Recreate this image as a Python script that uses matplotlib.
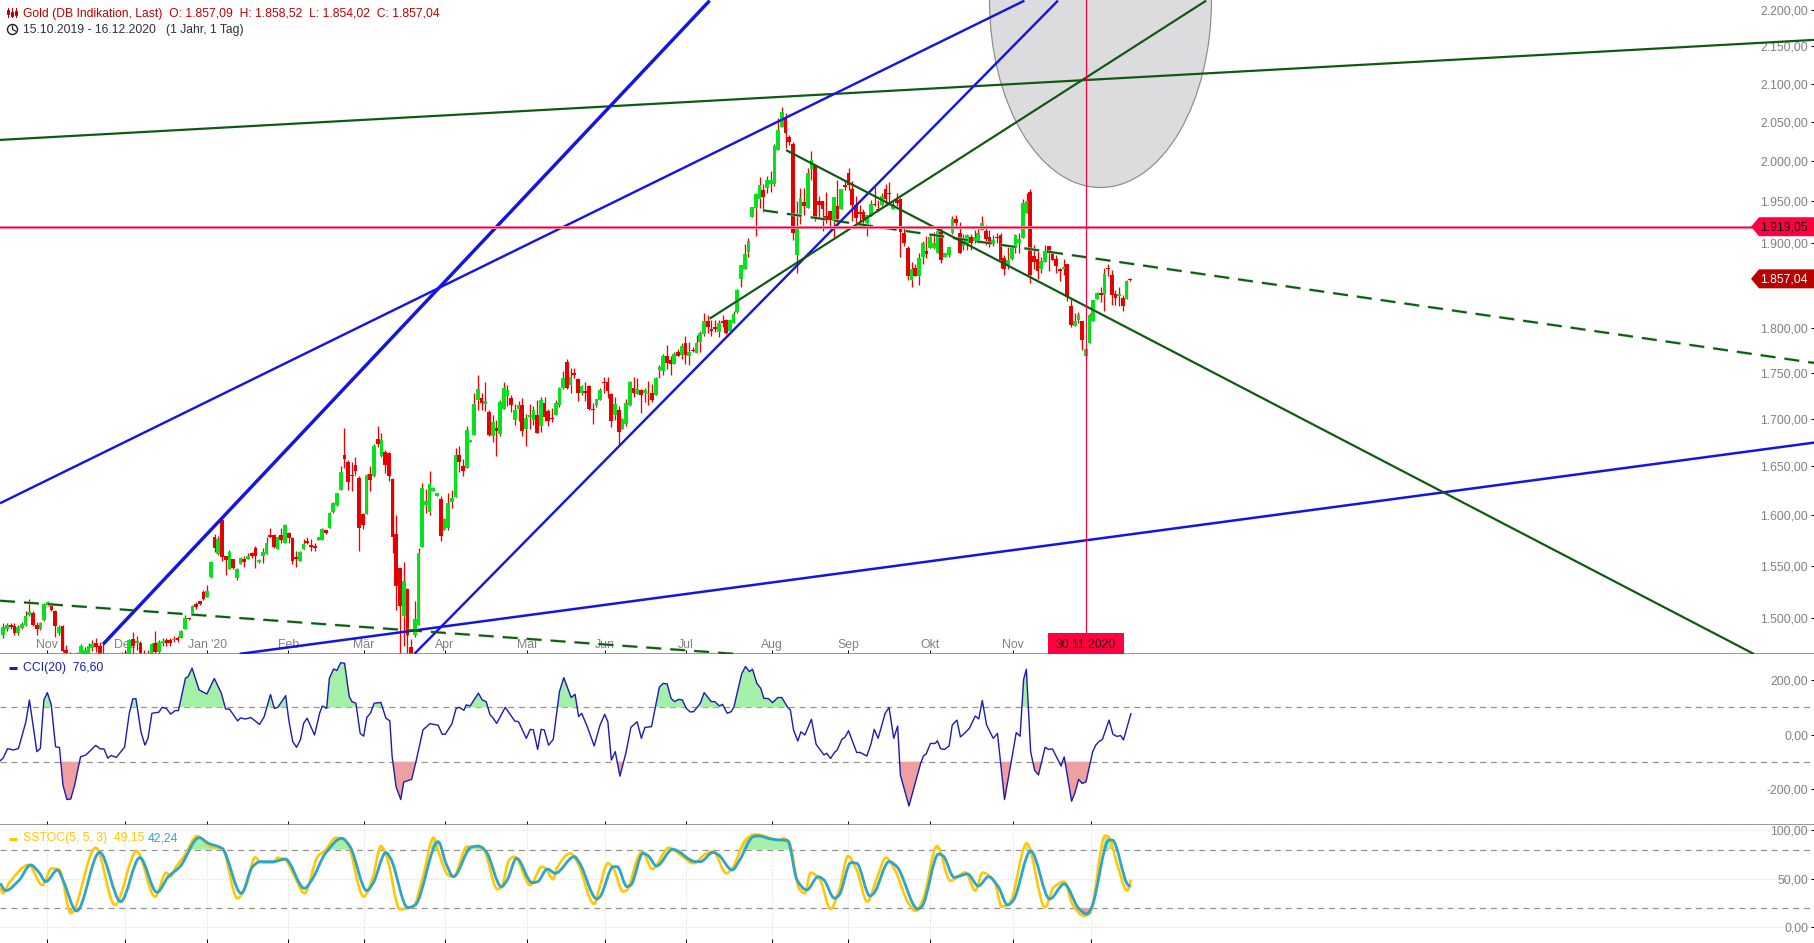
import numpy as np
import matplotlib
matplotlib.use("Agg")
import matplotlib.pyplot as plt
from matplotlib.lines import Line2D
from matplotlib.path import Path
from matplotlib.patches import Ellipse, Polygon, Rectangle, Circle, PathPatch

plt.rcParams['font.family'] = ['Liberation Sans', 'DejaVu Sans']
plt.rcParams['font.size'] = 8.8

# gold daily candles, one per weekday
opens = [
    1484, 1489, 1493, 1492, 1485, 1490, 1493, 1502, 1504, 1493,
    1489, 1498, 1512, 1512, 1506, 1485, 1492, 1470, 1462, 1455,
    1458, 1467, 1465, 1466, 1471, 1476, 1473, 1462, 1452, 1448,
    1450, 1458, 1460, 1456, 1466, 1480, 1476, 1476, 1465, 1462,
    1466, 1476, 1468, 1476, 1479, 1479, 1479, 1481, 1481, 1489,
    1500, 1503, 1513, 1516, 1524, 1520, 1539, 1578, 1561, 1595,
    1559, 1547, 1556, 1538, 1551, 1556, 1556, 1562, 1567, 1554,
    1559, 1561, 1580, 1580, 1566, 1580, 1572, 1582, 1577, 1558,
    1554, 1566, 1574, 1570, 1569, 1575, 1575, 1585, 1587, 1603,
    1610, 1626, 1662, 1655, 1641, 1651, 1638, 1601, 1601, 1642,
    1640, 1679, 1661, 1665, 1664, 1637, 1581, 1548, 1501, 1527,
    1472, 1484, 1493, 1568, 1610, 1603, 1625, 1619, 1616, 1585,
    1587, 1613, 1618, 1662, 1650, 1648, 1675, 1683, 1721, 1723,
    1716, 1708, 1682, 1690, 1684, 1711, 1725, 1723, 1699, 1711,
    1715, 1689, 1702, 1699, 1704, 1693, 1717, 1709, 1701, 1704,
    1715, 1733, 1762, 1737, 1750, 1743, 1728, 1730, 1736, 1711,
    1715, 1721, 1740, 1740, 1727, 1704, 1710, 1689, 1695, 1715,
    1733, 1727, 1731, 1728, 1727, 1728, 1726, 1753, 1752, 1769,
    1764, 1760, 1773, 1770, 1783, 1769, 1776, 1772, 1784, 1793,
    1808, 1799, 1801, 1796, 1808, 1809, 1797, 1806, 1819, 1857,
    1869, 1889, 1931, 1942, 1953, 1964, 1967, 1972, 1972, 2014,
    2043, 2054, 2031, 2022, 1885, 1935, 1949, 1942, 1990, 1994,
    1951, 1951, 1932, 1938, 1926, 1944, 1941, 1970, 1985, 1965,
    1946, 1937, 1937, 1924, 1932, 1947, 1941, 1945, 1965, 1960,
    1941, 1952, 1953, 1912, 1894, 1856, 1870, 1860, 1883, 1890,
    1893, 1894, 1888, 1913, 1883, 1885, 1912, 1928, 1912, 1896,
    1898, 1907, 1902, 1901, 1915, 1914, 1907, 1898, 1907, 1909,
    1882, 1873, 1880, 1893, 1899, 1905, 1936, 1962, 1884, 1880,
    1869, 1877, 1896, 1890, 1880, 1868, 1869, 1874, 1825, 1803,
    1809, 1808, 1769, 1783, 1808, 1834, 1840, 1838, 1870, 1861,
    1839, 1837, 1835, 1834, 1857.09,
]
highs = [
    1495, 1495, 1495, 1495, 1493, 1496, 1506, 1518, 1506, 1496,
    1496, 1514, 1516, 1515, 1507, 1493, 1493, 1474, 1468, 1466,
    1468, 1475, 1472, 1476, 1479, 1481, 1477, 1476, 1456, 1456,
    1460, 1467, 1468, 1468, 1480, 1486, 1483, 1478, 1470, 1470,
    1476, 1487, 1479, 1481, 1481, 1481, 1483, 1483, 1488, 1502,
    1500, 1512, 1515, 1516, 1526, 1531, 1554, 1581, 1579, 1597,
    1559, 1565, 1556, 1548, 1558, 1559, 1562, 1563, 1569, 1556,
    1567, 1578, 1587, 1581, 1579, 1587, 1591, 1583, 1578, 1564,
    1564, 1576, 1578, 1576, 1572, 1578, 1587, 1585, 1603, 1613,
    1623, 1650, 1690, 1657, 1654, 1660, 1640, 1602, 1642, 1650,
    1673, 1692, 1685, 1667, 1665, 1638, 1600, 1548, 1553, 1528,
    1480, 1516, 1567, 1633, 1627, 1645, 1629, 1623, 1619, 1597,
    1622, 1626, 1669, 1671, 1658, 1692, 1678, 1728, 1748, 1728,
    1740, 1710, 1704, 1699, 1720, 1740, 1737, 1726, 1716, 1719,
    1723, 1705, 1716, 1714, 1720, 1724, 1724, 1711, 1712, 1720,
    1735, 1752, 1765, 1755, 1755, 1745, 1737, 1740, 1737, 1717,
    1722, 1734, 1746, 1746, 1728, 1724, 1714, 1701, 1722, 1741,
    1746, 1744, 1732, 1734, 1741, 1738, 1746, 1759, 1771, 1781,
    1769, 1773, 1777, 1783, 1791, 1784, 1779, 1792, 1797, 1818,
    1815, 1809, 1810, 1809, 1815, 1811, 1810, 1820, 1845, 1873,
    1898, 1905, 1943, 1960, 1980, 1971, 1982, 1988, 2022, 2055,
    2070, 2062, 2033, 2024, 1950, 1966, 1966, 1991, 2013, 1997,
    1956, 1951, 1962, 1938, 1955, 1977, 1965, 1977, 1992, 1975,
    1956, 1946, 1940, 1933, 1952, 1968, 1952, 1960, 1972, 1974,
    1952, 1960, 1954, 1918, 1896, 1877, 1875, 1887, 1902, 1908,
    1910, 1913, 1916, 1919, 1887, 1895, 1932, 1933, 1925, 1910,
    1910, 1910, 1915, 1916, 1932, 1921, 1915, 1909, 1911, 1911,
    1885, 1895, 1896, 1910, 1911, 1953, 1960, 1965, 1897, 1891,
    1883, 1897, 1896, 1890, 1885, 1870, 1880, 1875, 1834, 1818,
    1819, 1808, 1778, 1817, 1832, 1842, 1848, 1870, 1875, 1867,
    1844, 1848, 1838, 1856, 1858.52,
]
lows = [
    1481, 1487, 1489, 1484, 1484, 1489, 1492, 1501, 1492, 1484,
    1488, 1497, 1511, 1506, 1482, 1484, 1468, 1465, 1458, 1450,
    1455, 1465, 1462, 1464, 1469, 1468, 1460, 1450, 1445, 1444,
    1447, 1450, 1452, 1453, 1460, 1466, 1470, 1460, 1458, 1458,
    1462, 1465, 1465, 1473, 1473, 1473, 1477, 1477, 1481, 1489,
    1498, 1503, 1508, 1512, 1517, 1520, 1538, 1563, 1560, 1554,
    1541, 1547, 1547, 1536, 1551, 1549, 1556, 1557, 1548, 1552,
    1552, 1561, 1578, 1567, 1566, 1572, 1572, 1572, 1551, 1549,
    1554, 1566, 1571, 1564, 1564, 1575, 1575, 1581, 1587, 1602,
    1609, 1626, 1648, 1626, 1625, 1641, 1564, 1586, 1601, 1625,
    1639, 1670, 1660, 1643, 1635, 1562, 1507, 1462, 1473, 1455,
    1440, 1482, 1493, 1568, 1602, 1600, 1625, 1619, 1574, 1585,
    1585, 1607, 1618, 1644, 1640, 1648, 1675, 1683, 1710, 1710,
    1709, 1682, 1675, 1661, 1682, 1711, 1714, 1707, 1694, 1698,
    1682, 1671, 1689, 1694, 1685, 1686, 1698, 1693, 1697, 1704,
    1713, 1732, 1732, 1728, 1744, 1719, 1726, 1719, 1710, 1695,
    1713, 1721, 1728, 1723, 1691, 1699, 1671, 1689, 1693, 1714,
    1724, 1727, 1706, 1718, 1715, 1718, 1726, 1744, 1748, 1754,
    1748, 1760, 1769, 1766, 1760, 1759, 1773, 1772, 1773, 1791,
    1795, 1791, 1796, 1790, 1802, 1794, 1797, 1806, 1818, 1848,
    1868, 1883, 1931, 1908, 1942, 1937, 1960, 1961, 1969, 2014,
    2043, 2017, 2021, 1903, 1864, 1922, 1933, 1942, 1977, 1926,
    1930, 1914, 1924, 1916, 1904, 1926, 1941, 1964, 1964, 1926,
    1923, 1921, 1921, 1908, 1932, 1944, 1938, 1944, 1944, 1946,
    1940, 1944, 1883, 1896, 1856, 1848, 1860, 1850, 1875, 1881,
    1893, 1892, 1887, 1876, 1883, 1883, 1910, 1918, 1887, 1891,
    1891, 1891, 1900, 1900, 1915, 1897, 1895, 1896, 1899, 1870,
    1861, 1868, 1879, 1887, 1887, 1905, 1936, 1852, 1868, 1857,
    1864, 1877, 1866, 1879, 1864, 1854, 1862, 1831, 1802, 1803,
    1806, 1775, 1766, 1783, 1808, 1833, 1830, 1820, 1860, 1827,
    1827, 1825, 1820, 1834, 1854.02,
]
closes = [
    1491, 1493, 1491, 1485, 1491, 1494, 1501, 1505, 1493, 1489,
    1495, 1513, 1515, 1507, 1492, 1491, 1469, 1467, 1460, 1458,
    1462, 1473, 1470, 1473, 1475, 1472, 1465, 1455, 1448, 1452,
    1456, 1454, 1456, 1462, 1479, 1473, 1478, 1467, 1460, 1466,
    1475, 1468, 1477, 1478, 1476, 1476, 1480, 1479, 1487, 1500,
    1499, 1511, 1510, 1513, 1518, 1525, 1553, 1567, 1576, 1558,
    1555, 1563, 1548, 1547, 1557, 1553, 1559, 1559, 1559, 1555,
    1563, 1572, 1579, 1568, 1578, 1575, 1590, 1577, 1554, 1556,
    1563, 1571, 1573, 1569, 1567, 1578, 1586, 1582, 1602, 1612,
    1622, 1644, 1658, 1634, 1640, 1645, 1587, 1590, 1641, 1636,
    1671, 1673, 1678, 1651, 1640, 1578, 1530, 1511, 1535, 1484,
    1455, 1499, 1562, 1628, 1614, 1632, 1628, 1623, 1579, 1596,
    1612, 1617, 1662, 1654, 1645, 1688, 1678, 1716, 1732, 1717,
    1719, 1683, 1697, 1687, 1718, 1734, 1731, 1715, 1710, 1715,
    1687, 1701, 1704, 1710, 1685, 1720, 1702, 1698, 1700, 1717,
    1734, 1745, 1733, 1746, 1748, 1728, 1736, 1728, 1711, 1710,
    1722, 1731, 1739, 1730, 1698, 1716, 1686, 1700, 1717, 1740,
    1728, 1732, 1726, 1731, 1728, 1721, 1745, 1757, 1769, 1761,
    1760, 1771, 1769, 1780, 1770, 1773, 1774, 1783, 1795, 1808,
    1801, 1797, 1800, 1806, 1806, 1795, 1809, 1816, 1844, 1873,
    1886, 1902, 1943, 1959, 1970, 1955, 1976, 1976, 2019, 2040,
    2063, 2036, 2024, 1912, 1917, 1954, 1944, 1985, 2002, 1931,
    1946, 1941, 1927, 1927, 1955, 1928, 1965, 1968, 1970, 1945,
    1930, 1934, 1928, 1933, 1947, 1946, 1940, 1956, 1953, 1959,
    1946, 1948, 1913, 1900, 1860, 1868, 1860, 1882, 1899, 1886,
    1907, 1900, 1914, 1879, 1887, 1895, 1929, 1923, 1887, 1905,
    1909, 1899, 1907, 1911, 1924, 1904, 1901, 1903, 1906, 1879,
    1868, 1879, 1895, 1909, 1904, 1948, 1951, 1862, 1877, 1866,
    1878, 1890, 1888, 1879, 1872, 1867, 1871, 1836, 1804, 1808,
    1815, 1787, 1777, 1815, 1832, 1841, 1838, 1863, 1869, 1838,
    1835, 1839, 1826, 1855, 1857.04,
]

# x for everything below is in "chart days"; candles run slightly tighter than that
candle_step = 0.9505
marked_candle = 292
price_now = 1857.04
price_level = 1919.05

month_days = [11.3, 31.2, 52.3, 73.1, 92.4, 113.2, 134.2, 154.2, 175, 197, 216.7, 237.7, 258.8, 278.8]
# last Dez sits under the date box in the original
month_names = ["Nov", "Dez", "Jan '20", "Feb", "Mär", "Apr", "Mai", "Jun", "Jul", "Aug", "Sep", "Okt", "Nov", ""]

price_ticks = [2200, 2150, 2100, 2050, 2000, 1950, 1900, 1850, 1800, 1750, 1700, 1650, 1600, 1550, 1500]
price_labels = ["2.200,00", "2.150,00", "2.100,00", "2.050,00", "2.000,00", "1.950,00", "1.900,00", "",
                "1.800,00", "1.750,00", "1.700,00", "1.650,00", "1.600,00", "1.550,00", "1.500,00"]

# drawn trend lines: start day/price, end day/price
trend_day0 = [-0.85, -0.85, 25.6, 105.4, 60.6, 181.1, 200.7, 194.8, -0.85]
trend_price0 = [2027, 1612, 1475, 1466, 1466, 1811, 2014, 1939, 1516]
trend_day1 = [464.5, 261.8, 181.1, 270.4, 464.5, 308.4, 448.8, 464.5, 187.6]
trend_price1 = [2159, 2213, 2213, 2213, 1675, 2213, 1466, 1761, 1466]
trend_colors = ['#0d5a12', '#1414e6', '#1414e6', '#1414e6', '#1414e6', '#0d5a12', '#0d5a12', '#0d5a12', '#0d5a12']
trend_widths = [2.2, 2.4, 3.4, 2.4, 2.5, 2.2, 2.2, 2, 2]
trend_dashed = [False, False, False, False, False, False, False, True, True]

cci_days = [
    -0.8, -0.1, 1.1, 2.6, 3.9, 5.8, 6.7, 8.6, 9.5, 10.4, 11.3, 12.3, 13.4, 14.4, 15.3, 16.3, 17.3, 18.3, 19.8, 21.2,
    23.7, 24.9, 25.8, 26.8, 27.6, 29.0, 31.1, 32.3, 33.2, 34.0, 35.3, 36.3, 37.1, 38.1, 39.9, 40.7, 41.8, 42.9, 44.1, 44.9,
    46.7, 47.4, 48.4, 50.2, 52.2, 54.1, 55.9, 57.0, 58.0, 60.1, 60.8, 62.0, 63.5, 65.7, 66.9, 68.5, 69.5, 70.4, 72.4, 73.2,
    74.2, 75.2, 76.2, 77.0, 77.9, 79.8, 81.1, 81.8, 82.9, 83.6, 84.7, 85.5, 86.5, 87.5, 88.7, 89.4, 90.4, 91.5, 92.4, 93.2,
    94.1, 95.1, 96.8, 98.1, 99.1, 99.7, 100.7, 101.9, 102.7, 104.7, 105.8, 107.6, 109.4, 111.5, 112.5, 113.3, 115.0, 116.1, 116.9, 118.1,
    118.7, 119.7, 121.8, 122.8, 123.8, 124.8, 125.5, 126.5, 128.7, 131.1, 132.1, 134.1, 135.1, 135.9, 137.0, 137.9, 138.7, 139.8, 141.0, 142.6,
    143.7, 145.6, 146.6, 147.5, 148.3, 149.8, 151.5,
    153, 154.2, 155, 155.9, 156.9, 158.1, 159.7, 160.9, 162.5, 163.6, 164.5, 166.2, 168.2, 169.2, 170.2, 171.2, 172.1, 173.1, 174.1, 175.1,
    176.1, 177, 178.7, 179.7, 181.5, 182.4, 183.6, 184.4, 185.6, 186.6, 187.3, 189.3, 190.3, 191.3, 192.1, 193.2, 194.2, 195, 196.2, 197.2,
    198.6, 199.6, 201.1, 201.8, 202.6, 203.7, 204.5, 205.5, 207.2, 208.4, 210.4, 211.1, 212.1, 213.1, 213.8, 215, 215.8, 216.7, 218.8, 219.7,
    221.4, 222.5, 223.3, 224.3, 226.1, 227.1, 228.3, 229.3, 230, 232.2, 235.2, 235.9, 236.6, 237.7, 238.9, 239.5, 240.3, 241.3, 242.5, 243.3,
    244.5, 245.4, 246.4, 247.7, 249.2, 250.1, 251, 252.1, 253.8, 254.9, 256.7, 258.5, 259.7, 260.7, 261.6, 262.3, 263.4, 264.4, 265.4, 267.1,
    268, 269, 271.2, 272, 273.9, 274.7, 275.7, 276.6, 277.6, 279.3, 280.1, 280.9, 281.8, 283.5, 284.5, 285.5, 286.5, 287.2, 289.1,
]
cci_values = [
    -96, -88, -52, -57, -51, 47, 127, -63, -51, 127, 154, 109, -45, -48, -186, -239, -237, -186, -82, -75,
    -40, -53, -53, -87, -77, -84, -46, 78, 131, 132, 10, -39, -14, 78, 82, 100, 96, 75, 88, 88,
    207, 213, 244, 164, 149, 206, 152, 94, 93, 50, 61, 57, 62, 37, 66, 147, 96, 100, 143, 53,
    -26, -47, -18, 41, 60, -2, 78, 105, 96, 207, 241, 235, 264, 262, 139, 121, 115, 4, -6, 63,
    78, 115, 118, 60, 50, -82, -192, -239, -174, -165, -100, 17, 40, 34, 1, 1, 39, 96, 100, 89,
    109, 105, 152, 127, 121, 72, 62, 41, 100, 50, 47, -14, 19, 17, -55, 19, 17, -39, -18, 158,
    209, 136, 148, 66, 78, 26, -42,
    35, 74, 47, -94, -63, -153, -63, 26, 47, -14, 26, 29, 174, 188, 186, 133, 121, 129, 127, 96,
    83, 84, 115, 154, 121, 121, 105, 111, 78, 84, 100, 223, 250, 231, 240, 188, 170, 133, 132, 117,
    136, 136, 100, 90, 17, -24, 10, -2, 56, -36, -75, -69, -88, -66, -57, -18, -10, 14, -66, -66,
    -79, -33, 19, -14, 78, 99, -14, 31, -149, -263, -106, -79, -72, -33, -33, -23, -52, -55, -42, 35,
    53, -9, 4, 23, 68, 57, 125, 35, -14, 4, -239, -94, 7, -6, 203, 240, -63, -131, -149, -47,
    -55, -53, -116, -82, -245, -217, -165, -180, -174, -63, -39, -26, -18, 53, 1, -7, -4, -20, 76.6,
]

stoch_fast_days = [
    -0.8, -0.1, 1.6, 6.5, 10, 12.4, 14.4, 17.3, 23.7, 28.6, 34.2, 38.9, 41.8, 42.8, 44.3, 46.3, 49.7, 53.1, 56.1, 60,
    62, 64.6, 65.9, 69.3, 70.3, 72.3, 74.7, 77.2, 80.6, 82.6, 85.3, 88, 92.4, 94.8, 96.8, 98.3, 101.7, 105.1, 107.6, 110.3,
    112, 114, 115.4, 118.9, 122.8, 126.7, 127.7, 129.7, 131.1, 135.1, 136.1, 138, 139, 141, 141.9, 145.4, 147.3, 151.5, 152.7,
    155, 156.4, 158.9, 159.9, 162.8, 163.8, 166.4, 170.7, 173.6, 177, 180, 182, 185.4, 186.9, 190.3, 192.7, 199.1, 200.1, 201.6, 204,
    205.5, 207, 209.4, 212.1, 214.3, 216.6, 218.8, 221.5, 224.1, 226.3, 228.6, 232, 234, 235.9, 239.4, 242.8, 246.7, 249.2, 251.1, 254.1,
    256, 258, 262.4, 267.1, 269.3, 272, 274.2, 277.1, 278.6, 282.5, 283.5, 285.5, 288.2, 289.1,
]
stoch_fast = [
    41.2, 35.1, 46.4, 64.3, 43.6, 60.8, 59.1, 14.4, 82.1, 23, 78.7, 31.6, 56.4, 52.2, 62.5, 72.9, 94.2, 83.2, 81.4, 29.9,
    40.2, 72.2, 67, 66.7, 71.8, 69.4, 52.2, 35.1, 72.9, 79.7, 92.4, 88.3, 31.6, 52.2, 83.8, 72.9, 18.6, 21.3, 52.2, 92.4,
    72.9, 54, 52.2, 83.2, 82.5, 39.5, 41.2, 69.4, 72.9, 43.6, 48.8, 62.5, 60.8, 49.5, 60.8, 76.3, 66, 24.1, 38.5,
    66, 60.8, 36.8, 38.5, 72.9, 78, 60.1, 82.1, 74.6, 66, 75.6, 78, 55.7, 60.8, 90, 95.9, 90, 91.8, 86.6, 40.2,
    35.1, 56.4, 48.8, 18.9, 38.5, 73.5, 59.1, 26.5, 52.2, 71.8, 59.1, 25.4, 16.8, 29.9, 83.8, 48.1, 56.7, 37.8, 56.4, 47.1,
    21.3, 24.7, 86.6, 20.6, 41.2, 47.1, 23, 11.7, 14.4, 94.5, 92.8, 66, 37.8, 49.15,
]
stoch_slow_days = [
    -0.8, 0.6, 4.1, 7, 9, 10.9, 13.9, 15.3, 18.8, 24.7, 30.1, 35, 39.4, 42.3, 45.3, 50.2, 52.6, 56.1, 61, 63.9,
    65.9, 69.3, 72.3, 77.2, 79.1, 82.6, 86.8, 88.9, 93.2, 94.8, 98.1, 99.3, 103.7, 105.6, 111.5, 113.5, 115.4, 119.9, 121.8, 123.8,
    127.7, 129.2, 131.6, 135.6, 137, 139.5, 141.5, 146.4, 147.8, 152.2,
    153, 156.4, 157.4, 159.9, 160.9, 164, 165.3, 167.5, 171.6, 177.5, 178.7, 182, 183.4, 186.9, 188.8, 192.3, 193.7, 197.2, 201.1, 203.5,
    206, 208.9, 210.4, 213.1, 214.3, 217.3, 218.8, 222.2, 223.2, 227.1, 229.1, 234.5, 235.6, 239.8, 241, 243.8, 247.2, 250, 252.6, 255.1,
    257.5, 259, 263.4, 268.3, 272, 275.7, 277.8, 279.1, 283.5, 284.3, 288.4, 289.1,
]
stoch_slow = [
    45.4, 37.8, 48.8, 64.3, 57.4, 47.1, 59.1, 48.8, 16.8, 77.3, 26.5, 71.8, 36.1, 52.2, 62.5, 92.4, 86.6, 81.4, 35.1, 62.5,
    67.7, 67.7, 70.4, 40.2, 48.8, 76.3, 91.8, 83.2, 37.8, 45.4, 77, 71.1, 20.3, 23, 88.3, 66, 52.2, 82.5, 83.8, 78,
    41.9, 48.8, 71.1, 46, 47.1, 60.1, 55.7, 72.9, 66, 29.2,
    31.6, 62.5, 62.5, 41.9, 43.6, 76.3, 73.9, 63.2, 80.4, 67.7, 67.7, 77.3, 74.6, 59.1, 69.4, 93.5, 94.2, 90.7, 89.3, 48.8,
    38.5, 52.2, 48.8, 29.9, 33.3, 66.7, 66, 32.3, 35.1, 67.7, 62.5, 18.9, 22, 75.6, 73.5, 51.5, 55, 42.6, 52.2, 41.9,
    23, 28.2, 78.7, 29.2, 44.7, 19.6, 13.7, 21.3, 90, 90, 43.6, 42.24,
]

W, H = 1815, 943
GREY = '#808080'
RED = '#ff0040'
GREEN_FILL = '#a4f0a8'
RED_FILL = '#eea0a0'


def px(n):
    return n * 0.72


def pane(top, bottom):
    ax = fig.add_axes([0, 1 - bottom / H, 1, (bottom - top) / H])
    ax.set_xlim(-0.846, 464.5)
    for s in ['top', 'left', 'right']:
        ax.spines[s].set_visible(False)
    ax.spines['bottom'].set_color(GREY)
    ax.spines['bottom'].set_linewidth(px(1.6))
    ax.yaxis.tick_right()
    ax.tick_params(axis='y', direction='in', length=3, width=0.7, pad=-5, labelcolor=GREY)
    ax.tick_params(axis='x', direction='in', length=3, width=0.7, labelbottom=False)
    ax.set_xticks(month_days)
    return ax


def right_labels(ax, ticks, labels):
    ax.set_yticks(ticks)
    ax.set_yticklabels(labels, ha='right', va='center_baseline')


def price_tag(ax, y_value, text, face, color):
    y = H - ax.transData.transform((0, y_value))[1]
    pts = [(1751, y), (1759, y - 9.5), (1815, y - 9.5), (1815, y + 9.5), (1759, y + 9.5)]
    fig.add_artist(Polygon([(a / W, 1 - b / H) for a, b in pts], closed=True, facecolor=face,
                           edgecolor='none', transform=fig.transFigure, zorder=6))
    fig.text(1808 / W, 1 - (y + 0.5) / H, text, color=color, ha='right', va='center', zorder=7)


def soft_line(ax, xs, ys, color, lw, z):
    # the indicator is drawn as a rounded curve through the read values
    xs = np.asarray(xs, dtype=float)
    ys = np.asarray(ys, dtype=float)
    dx = np.diff(xs)
    s = np.diff(ys) / dx
    m = np.zeros(len(xs))
    m[0], m[-1] = s[0], s[-1]
    for i in range(1, len(xs) - 1):
        if s[i - 1] * s[i] > 0:
            m[i] = 2 * s[i - 1] * s[i] / (s[i - 1] + s[i])
    verts = [(xs[0], ys[0])]
    codes = [Path.MOVETO]
    for i in range(len(dx)):
        verts += [(xs[i] + dx[i] / 3, ys[i] + m[i] * dx[i] / 3),
                  (xs[i + 1] - dx[i] / 3, ys[i + 1] - m[i + 1] * dx[i] / 3),
                  (xs[i + 1], ys[i + 1])]
        codes += [Path.CURVE4] * 3
    ax.add_patch(PathPatch(Path(verts, codes), facecolor='none', edgecolor=color, linewidth=px(lw),
                           zorder=z, joinstyle='round', capstyle='butt'))


fig = plt.figure(figsize=(W / 100, H / 100), dpi=100)

# ---- price pane
ax = pane(0, 654)
ax.set_yscale('log')
ax.set_ylim(1465.9, 2213.9)
ax.minorticks_off()
right_labels(ax, price_ticks, price_labels)
ax.minorticks_off()
ax.set_xlim(-0.846, 464.5)
ax.tick_params(axis='x', labelbottom=True, pad=-11, labelcolor=GREY)
ax.set_xticklabels(month_names)

ax.add_patch(Ellipse((1100.5 / W, 1.0), 222 / W, 375 / 654, transform=ax.transAxes,
                     facecolor='#dcdcdf', edgecolor='#8c8c8c', linewidth=px(1.2), zorder=1))

x_c = np.arange(len(opens)) * candle_step
o = np.array(opens, dtype=float)
c = np.array(closes, dtype=float)
hi = np.array(highs, dtype=float)
lo = np.array(lows, dtype=float)
up = c >= o
top = np.maximum(o, c)
bot = np.minimum(o, c)
bot_d = np.where(top - bot < 1.5, top - 1.5, bot)

ax.vlines(x_c, lo, hi, color='#f00000', linewidth=px(1.3), zorder=2)
ax.bar(x_c[up], (top - bot_d)[up], bottom=bot_d[up], width=0.95, color='#00e81c', linewidth=0, zorder=2.1)
ax.bar(x_c[~up], (top - bot_d)[~up], bottom=bot_d[~up], width=0.95, color='#ea0000', linewidth=0, zorder=2.1)
ax.vlines(x_c[up], bot_d[up], top[up], color='#18b030', linewidth=px(0.8), linestyle=(0, (1, 2)), zorder=2.2)
ax.vlines(x_c[~up], bot_d[~up], top[~up], color='#b80000', linewidth=px(0.8), linestyle=(0, (1, 2)), zorder=2.2)

for d0, p0, d1, p1, col, lw, dash in zip(trend_day0, trend_price0, trend_day1, trend_price1,
                                         trend_colors, trend_widths, trend_dashed):
    if dash:
        ax.plot([d0, d1], [p0, p1], color='#b8dcb8', linewidth=px(3), linestyle=(0, (5, 3)), zorder=2.9)
        ax.plot([d0, d1], [p0, p1], color=col, linewidth=px(2), linestyle=(0, (7.5, 4.5)), zorder=3)
    else:
        ax.plot([d0, d1], [p0, p1], color=col, linewidth=px(lw), zorder=3, solid_capstyle='butt')

ax.axhline(price_level, color='#ff88a4', linewidth=px(3), zorder=3.1)
ax.axhline(price_level, color='#e80038', linewidth=px(1.2), zorder=3.2)

mark_x = marked_candle * candle_step
ax.axvline(mark_x, color=RED, linewidth=px(1.2), zorder=3.3)
ax.add_patch(Rectangle((mark_x - 9.75, 0), 19.5, 21 / 654, transform=ax.get_xaxis_transform(),
                       facecolor=RED, edgecolor='none', zorder=5))
ax.text(mark_x, 9.5 / 654, "30.11.2020", transform=ax.get_xaxis_transform(), ha='center', va='center',
        color='#101010', zorder=6)

fig.canvas.draw()
price_tag(ax, price_level, "1.919,05", RED, '#101010')
price_tag(ax, price_now, "1.857,04", '#bb0000', 'white')

# header
fig.text(23 / W, 1 - 13.5 / H, "Gold (DB Indikation, Last)  O: 1.857,09  H: 1.858,52  L: 1.854,02  C: 1.857,04",
         color='#c00000', va='center', ha='left', fontsize=8.7)
fig.text(23 / W, 1 - 30 / H, "15.10.2019 - 16.12.2020   (1 Jahr, 1 Tag)", color='#303038', va='center', ha='left',
         fontsize=8.7)
for cx, y0, y1, b0, b1 in [(8, 8, 17, 10, 14), (12, 8, 17, 12, 16), (16, 8, 17, 11, 15)]:
    fig.add_artist(Line2D([cx / W, cx / W], [1 - y0 / H, 1 - y1 / H], color='#c00000', linewidth=px(1)))
    fig.add_artist(Rectangle(((cx - 1) / W, 1 - b1 / H), 2 / W, (b1 - b0) / H, facecolor='white',
                             edgecolor='#c00000', linewidth=px(1), transform=fig.transFigure))
clock_ax = fig.add_axes([6 / W, 1 - 36 / H, 13 / W, 13 / H])
clock_ax.set_xlim(0, 13)
clock_ax.set_ylim(0, 13)
clock_ax.axis('off')
clock_ax.add_patch(Circle((6.5, 6.5), 5, facecolor='none', edgecolor='#202028', linewidth=px(1.4)))
clock_ax.plot([6.5, 6.5, 9.5], [10, 6.5, 5], color='#202028', linewidth=px(1.2))

# ---- CCI pane
ax2 = pane(654, 825)
ax2.set_ylim(-332.7, 296)
right_labels(ax2, [200, 0, -200], ["200,00", "0,00", "-200,00"])
days_cci = np.array(cci_days)
vals_cci = np.array(cci_values, dtype=float)
for lvl in [100, -100]:
    ax2.axhline(lvl, color='#909090', linewidth=px(1.2), linestyle=(0, (5, 4)), zorder=1)
ax2.fill_between(days_cci, vals_cci, 100, where=vals_cci > 100, interpolate=True, color=GREEN_FILL, linewidth=0, zorder=1.5)
ax2.fill_between(days_cci, vals_cci, -100, where=vals_cci < -100, interpolate=True, color=RED_FILL, linewidth=0, zorder=1.5)
ax2.plot(days_cci, vals_cci, color='#1c1cb4', linewidth=px(1.4), zorder=3)
ax2.plot([9 / W, 17 / W], [1 - 14 / 171, 1 - 14 / 171], transform=ax2.transAxes, color='#1c1cb4', linewidth=px(3), solid_capstyle='butt')
ax2.text(23 / W, 1 - 13.5 / 171, "CCI(20)  76,60", transform=ax2.transAxes, color='#1c1cb4', va='center')

# ---- stochastic pane
ax3 = pane(825, 943)
ax3.set_ylim(-16.2, 105.5)
right_labels(ax3, [100, 50, 0], ["100,00", "50,00", "0,00"])
ax3.spines['bottom'].set_visible(False)
for lvl in [0, 50, 100]:
    ax3.axhline(lvl, color='#dcdcdc', linewidth=px(1), linestyle=(0, (1, 1.5)), zorder=0.5)
for d in month_days:
    ax3.axvline(d, color='#dcdcdc', linewidth=px(1), linestyle=(0, (1, 1.5)), zorder=0.5)
for lvl in [80, 20]:
    ax3.axhline(lvl, color='#909090', linewidth=px(1.2), linestyle=(0, (5, 4)), zorder=1)
days_fast = np.array(stoch_fast_days)
vals_fast = np.array(stoch_fast, dtype=float)
ax3.fill_between(days_fast, vals_fast, 80, where=vals_fast > 80, interpolate=True, color=GREEN_FILL, linewidth=0, zorder=1.5)
ax3.fill_between(days_fast, vals_fast, 20, where=vals_fast < 20, interpolate=True, color=RED_FILL, linewidth=0, zorder=1.5)
soft_line(ax3, days_fast, vals_fast, '#ffc800', 2.6, 3)
soft_line(ax3, stoch_slow_days, stoch_slow, '#2ea4c8', 2.8, 3.2)
ax3.plot([9 / W, 17 / W], [1 - 14 / 118, 1 - 14 / 118], transform=ax3.transAxes, color='#ffc800', linewidth=px(3), solid_capstyle='butt')
ax3.text(23 / W, 1 - 13.5 / 118, "SSTOC(5, 5, 3)  49,15", transform=ax3.transAxes, color='#ffc800', va='center', zorder=5)
ax3.text(148 / W, 1 - 13.5 / 118, "42,24", transform=ax3.transAxes, color='#2ea4c8', va='center', zorder=5)

fig.savefig("out.png", dpi=100, facecolor='white')
